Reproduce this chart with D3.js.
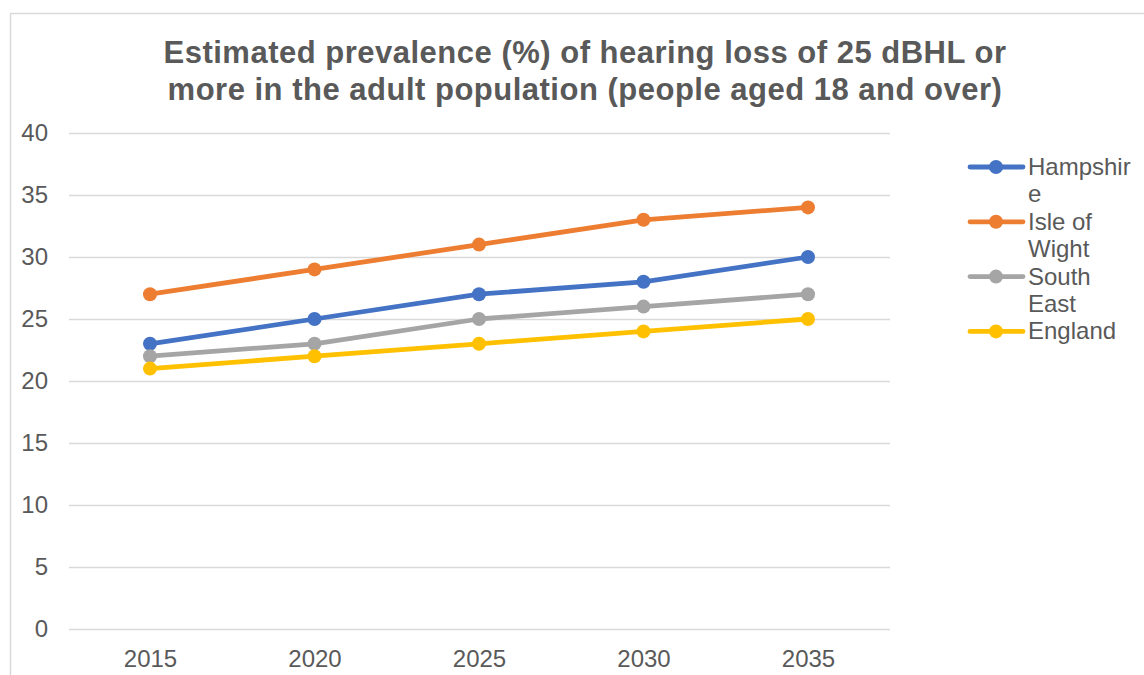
<!DOCTYPE html>
<html>
<head>
<meta charset="utf-8">
<script src="https://cdn.jsdelivr.net/npm/d3@7"></script>
<style>
  html, body { margin: 0; padding: 0; background: #fff; }
  svg { display: block; font-family: "Liberation Sans", Arial, sans-serif; }
</style>
</head>
<body>
<svg id="chart" width="1144" height="675"></svg>
<script>
const years = ["2015", "2020", "2025", "2030", "2035"];
const seriesNames = ["Hampshire", "Isle of Wight", "South East", "England"];
const legendLines = [["Hampshir", "e"], ["Isle of", "Wight"], ["South", "East"], ["England"]];
const hampshire = [23, 25, 27, 28, 30];
const isleOfWight = [27, 29, 31, 33, 34];
const southEast = [22, 23, 25, 26, 27];
const england = [21, 22, 23, 24, 25];
const yTicks = [0, 5, 10, 15, 20, 25, 30, 35, 40];
const colors = ["#4472C4", "#ED7D31", "#A5A5A5", "#FFC000"];
const titleLines = ["Estimated prevalence (%) of hearing loss of 25 dBHL or",
                    "more in the adult population (people aged 18 and over)"];

const values = [hampshire, isleOfWight, southEast, england];
const series = seriesNames.map((name, i) => ({ name, values: values[i], color: colors[i], legend: legendLines[i] }));

const svg = d3.select("#chart");
const textColor = "#595959";
const fontFamily = "Liberation Sans, Arial, sans-serif";

// chart frame
svg.append("rect")
  .attr("x", 10.5).attr("y", 13.5)
  .attr("width", 1150).attr("height", 700)
  .attr("fill", "#fff").attr("stroke", "#d9d9d9").attr("stroke-width", 1.5);

// title
svg.append("g").selectAll("text").data(titleLines).join("text")
  .attr("x", 585).attr("y", (d, i) => 63 + i * 37)
  .attr("text-anchor", "middle")
  .attr("font-size", 31).attr("font-weight", "bold")
  .attr("letter-spacing", 0.5)
  .attr("fill", textColor)
  .text(d => d);

const plot = { left: 69, right: 890, top: 133, bottom: 629 };

const x = d3.scalePoint().domain(years).range([150, 808]);
const y = d3.scaleLinear().domain([0, 40]).range([plot.bottom, plot.top]);

// horizontal gridlines
svg.append("g").selectAll("line").data(yTicks).join("line")
  .attr("x1", plot.left).attr("x2", plot.right)
  .attr("y1", d => Math.round(y(d)) + 0.5).attr("y2", d => Math.round(y(d)) + 0.5)
  .attr("stroke", "#d9d9d9").attr("stroke-width", 1.5);

// y axis labels
const yAxis = svg.append("g")
  .attr("transform", `translate(48,0)`)
  .call(d3.axisLeft(y).tickValues(yTicks).tickSize(0).tickPadding(0).tickFormat(d3.format("d")));
yAxis.select(".domain").remove();
yAxis.selectAll("text").attr("font-size", 24).attr("fill", textColor)
  .attr("font-family", fontFamily);

// x axis labels
const xAxis = svg.append("g")
  .attr("transform", `translate(0,${plot.bottom + 21})`)
  .call(d3.axisBottom(x).tickSize(0).tickPadding(0));
xAxis.select(".domain").remove();
xAxis.selectAll("text").attr("font-size", 24).attr("fill", textColor)
  .attr("font-family", fontFamily);

// lines and markers
const line = d3.line().x((d, i) => x(years[i])).y(d => y(d));
const g = svg.append("g").selectAll("g").data(series).join("g");
g.append("path")
  .attr("d", d => line(d.values))
  .attr("fill", "none").attr("stroke", d => d.color)
  .attr("stroke-width", 4.8).attr("stroke-linejoin", "round").attr("stroke-linecap", "round");
g.selectAll("circle").data(d => d.values.map((v, i) => ({ v, i, color: d.color }))).join("circle")
  .attr("cx", d => x(years[d.i])).attr("cy", d => y(d.v))
  .attr("r", 7).attr("fill", d => d.color);

// legend
const rowH = 27.4;
let row = 0;
const lg = svg.append("g");
series.forEach(s => {
  const yy = 167 + row * rowH;
  const item = lg.append("g");
  item.append("line")
    .attr("x1", 970).attr("x2", 1023).attr("y1", yy).attr("y2", yy)
    .attr("stroke", s.color).attr("stroke-width", 4.8).attr("stroke-linecap", "round");
  item.append("circle").attr("cx", 996).attr("cy", yy).attr("r", 7).attr("fill", s.color);
  s.legend.forEach((t, j) => {
    item.append("text")
      .attr("x", 1028).attr("y", yy + j * rowH + 8)
      .attr("font-size", 24).attr("fill", textColor)
      .text(t);
  });
  row += s.legend.length;
});
</script>
</body>
</html>
